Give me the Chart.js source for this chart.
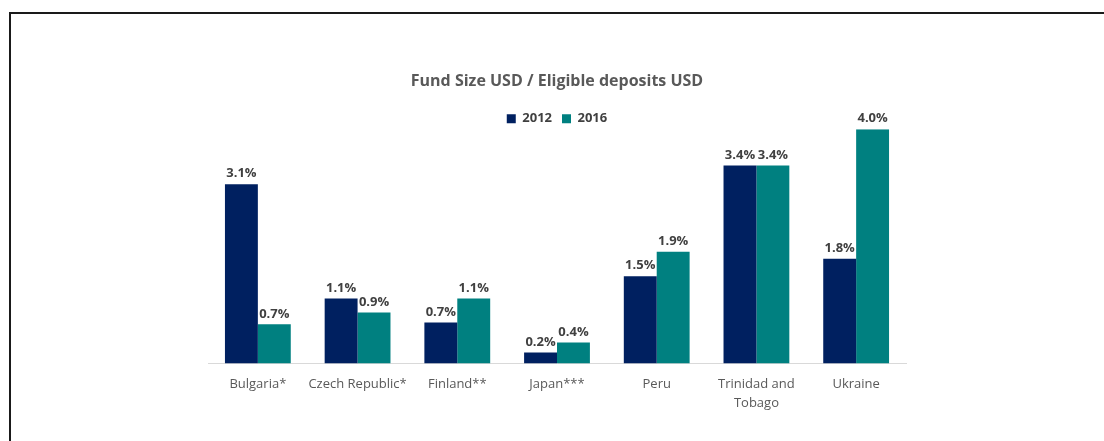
<!DOCTYPE html>
<html>
<head>
<meta charset="utf-8">
<script src="https://cdn.jsdelivr.net/npm/chart.js@4/dist/chart.umd.min.js"></script>
<style>
  html, body { margin: 0; padding: 0; background: #fff; width: 1104px; height: 441px; overflow: hidden; }
  #frame { position: absolute; left: 9px; top: 12px; width: 1200px; height: 600px; border-left: 2px solid #1a1a1a; border-top: 2px solid #1a1a1a; box-sizing: border-box; }
  #wrap { position: absolute; left: 0; top: 0; width: 1104px; height: 441px; }
</style>
</head>
<body>
<div id="frame"></div>
<div id="wrap"><canvas id="c" width="1104" height="441"></canvas></div>
<script>
const categories = ["Bulgaria*", "Czech Republic*", "Finland**", "Japan***", "Peru", ["Trinidad and", "Tobago"], "Ukraine"];
const series2012 = [3.06, 1.11, 0.70, 0.19, 1.49, 3.38, 1.79];
const series2016 = [0.67, 0.87, 1.11, 0.36, 1.91, 3.38, 4.00];
const seriesNames = ["2012", "2016"];
const titleText = "Fund Size USD / Eligible deposits USD";

const FONT = "'Open Sans', 'Noto Sans', sans-serif";

const labelPlugin = {
  id: 'barLabels',
  afterDatasetsDraw(chart) {
    const ctx = chart.ctx;
    ctx.save();
    ctx.font = "bold 13px " + FONT;
    ctx.fillStyle = '#404040';
    ctx.textAlign = 'center';
    ctx.textBaseline = 'bottom';
    chart.data.datasets.forEach((ds, i) => {
      const meta = chart.getDatasetMeta(i);
      meta.data.forEach((bar, j) => {
        ctx.fillText(ds.data[j].toFixed(1) + '%', bar.x, bar.y - 4);
      });
    });
    ctx.restore();
  }
};

// Legend overlaps the top of the plot a little in the original; trim its reserved height.
const legendHeightPlugin = {
  id: 'legendHeight',
  beforeLayout(chart) {
    const lg = chart.legend;
    if (lg && !lg._patched) {
      const orig = lg.fit;
      lg.fit = function () { orig.call(this); this.height = 27; };
      lg._patched = true;
    }
  }
};

new Chart(document.getElementById('c'), {
  type: 'bar',
  data: {
    labels: categories,
    datasets: [
      { label: seriesNames[0], data: series2012, backgroundColor: '#002060' },
      { label: seriesNames[1], data: series2016, backgroundColor: '#008080' }
    ]
  },
  options: {
    responsive: false,
    animation: false,
    devicePixelRatio: 1,
    layout: { padding: { top: 60, left: 208, right: 198, bottom: 17 } },
    datasets: { bar: { categoryPercentage: 0.66, barPercentage: 1.0 } },
    plugins: {
      title: {
        display: true,
        text: titleText,
        color: '#595959',
        font: { family: FONT, size: 16, weight: 'bold' },
        padding: { top: 12, bottom: 11 }
      },
      legend: {
        display: true,
        labels: {
          color: '#404040',
          font: { family: FONT, size: 13, weight: 'bold' },
          boxWidth: 9,
          boxHeight: 9,
          padding: 10
        }
      },
      tooltip: { enabled: false }
    },
    scales: {
      x: {
        grid: { display: false, drawTicks: false },
        border: { display: true, color: '#d9d9d9', width: 1 },
        ticks: { color: '#595959', font: { family: FONT, size: 13, lineHeight: 1.4 }, padding: 12, maxRotation: 0, autoSkip: false }
      },
      y: {
        display: false,
        min: 0,
        max: 4.0
      }
    }
  },
  plugins: [legendHeightPlugin, labelPlugin]
});
</script>
</body>
</html>
